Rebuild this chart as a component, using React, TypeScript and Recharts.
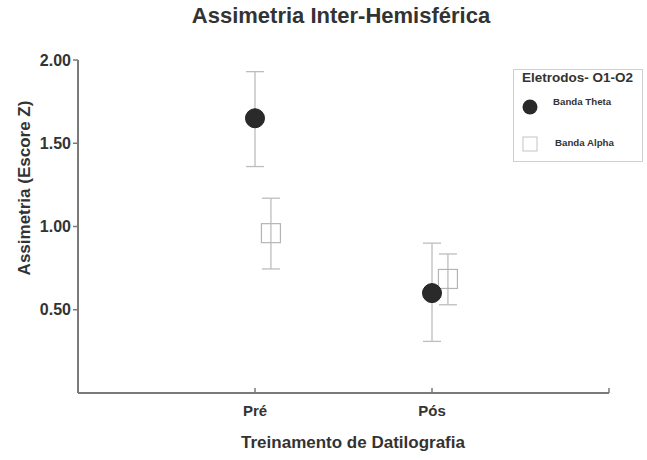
import React from 'react';
import { ScatterChart, Scatter, XAxis, YAxis, ErrorBar } from 'recharts';

const categories = ['Pré', 'Pós'];
const thetaMean = [1.65, 0.6];
const thetaLow = [1.36, 0.31];
const thetaHigh = [1.93, 0.9];
const alphaMean = [0.96, 0.685];
const alphaLow = [0.745, 0.53];
const alphaHigh = [1.17, 0.835];
const yTicks = [0.5, 1, 1.5, 2];

const ALPHA_SHIFT = 0.09;

const thetaData = categories.map((c, i) => ({
  cat: c,
  x: i + 1,
  y: thetaMean[i],
  err: [thetaMean[i] - thetaLow[i], thetaHigh[i] - thetaMean[i]],
}));
const alphaData = categories.map((c, i) => ({
  cat: c,
  x: i + 1 + ALPHA_SHIFT,
  y: alphaMean[i],
  err: [alphaMean[i] - alphaLow[i], alphaHigh[i] - alphaMean[i]],
}));

const FONT = '"Liberation Sans", Arial, Helvetica, sans-serif';
const TXT = '#333';
const AXIS = '#7a7a7a';
const ERR = '#bdbdbd';

const CircleShape = (p: any) => (
  <circle cx={p.cx} cy={p.cy} r={9.5} fill="#2a2a2a" stroke="#222" strokeWidth={1} />
);
const SquareShape = (p: any) => (
  <rect x={p.cx - 9.5} y={p.cy - 9.5} width={19} height={19} fill="none" stroke="#b4b4b4" strokeWidth={1.2} />
);

const XTick = (p: any) => {
  const v = p.payload.value;
  const label = v >= 1 && v <= categories.length ? categories[v - 1] : '';
  return (
    <g>
      <line x1={p.x} y1={p.y} x2={p.x} y2={p.y - 5} stroke={AXIS} strokeWidth={1.5} />
      {label && (
        <text x={p.x} y={p.y + 23} textAnchor="middle" fontFamily={FONT} fontWeight="bold" fontSize={15} fill={TXT}>
          {label}
        </text>
      )}
    </g>
  );
};

const LegendBox = () => (
  <div
    style={{
      position: 'absolute',
      left: 513,
      top: 69,
      width: 130,
      height: 93,
      border: '1px solid #d0d0d0',
      background: '#fff',
      fontFamily: FONT,
      color: TXT,
      boxSizing: 'border-box',
    }}
  >
    <div style={{ position: 'absolute', left: 8, top: 0, fontSize: 13.5, fontWeight: 'bold', whiteSpace: 'nowrap' }}>
      Eletrodos- O1-O2
    </div>
    <svg width={20} height={20} style={{ position: 'absolute', left: 6, top: 27 }}>
      <circle cx={10} cy={10} r={7.5} fill="#2a2a2a" />
    </svg>
    <div style={{ position: 'absolute', left: 39, top: 26, fontSize: 9.7, fontWeight: 'bold', whiteSpace: 'nowrap' }}>
      Banda Theta
    </div>
    <svg width={20} height={20} style={{ position: 'absolute', left: 6, top: 64 }}>
      <rect x={3} y={3} width={14} height={14} fill="none" stroke="#c4c4c4" strokeWidth={1} />
    </svg>
    <div style={{ position: 'absolute', left: 41, top: 67, fontSize: 9.7, fontWeight: 'bold', whiteSpace: 'nowrap' }}>
      Banda Alpha
    </div>
  </div>
);

export default function App() {
  return (
    <div style={{ position: 'absolute', left: 0, top: 0, width: 647, height: 460, background: '#fff' }}>
      <ScatterChart width={647} height={460} margin={{ top: 60, right: 38, bottom: 0, left: 0 }}>
        <XAxis
          type="number"
          dataKey="x"
          domain={[0, 3]}
          ticks={[1, 2, 3]}
          height={67}
          tickSize={0}
          tickMargin={0}
          tickLine={false}
          axisLine={{ stroke: AXIS, strokeWidth: 2 }}
          tick={<XTick />}
          allowDataOverflow
        />
        <YAxis
          type="number"
          dataKey="y"
          domain={[0, 2]}
          ticks={yTicks}
          width={78}
          tickSize={5}
          tickMargin={2}
          tickFormatter={(v: number) => v.toFixed(2)}
          axisLine={{ stroke: AXIS, strokeWidth: 2 }}
          tickLine={{ stroke: AXIS, strokeWidth: 1.5 }}
          tick={{ fontFamily: FONT, fontWeight: 'bold', fontSize: 16, fill: TXT }}
        />
        <Scatter name="Banda Alpha" data={alphaData} shape={SquareShape} isAnimationActive={false}>
          <ErrorBar dataKey="err" direction="y" width={9} stroke={ERR} strokeWidth={1.3} />
        </Scatter>
        <Scatter name="Banda Theta" data={thetaData} shape={CircleShape} isAnimationActive={false}>
          <ErrorBar dataKey="err" direction="y" width={9} stroke={ERR} strokeWidth={1.3} />
        </Scatter>
      </ScatterChart>
      <LegendBox />
      <div
        style={{
          position: 'absolute',
          left: 0,
          top: 3,
          width: 682,
          textAlign: 'center',
          fontFamily: FONT,
          fontWeight: 'bold',
          fontSize: 22,
          color: TXT,
        }}
      >
        Assimetria Inter-Hemisférica
      </div>
      <div
        style={{
          position: 'absolute',
          left: 0,
          top: 433,
          width: 706,
          textAlign: 'center',
          fontFamily: FONT,
          fontWeight: 'bold',
          fontSize: 17,
          color: TXT,
        }}
      >
        Treinamento de Datilografia
      </div>
      <div
        style={{
          position: 'absolute',
          left: 25,
          top: 188,
          transform: 'translate(-50%, -50%) rotate(-90deg)',
          whiteSpace: 'nowrap',
          fontFamily: FONT,
          fontWeight: 'bold',
          fontSize: 17,
          color: TXT,
        }}
      >
        Assimetria (Escore Z)
      </div>
    </div>
  );
}
